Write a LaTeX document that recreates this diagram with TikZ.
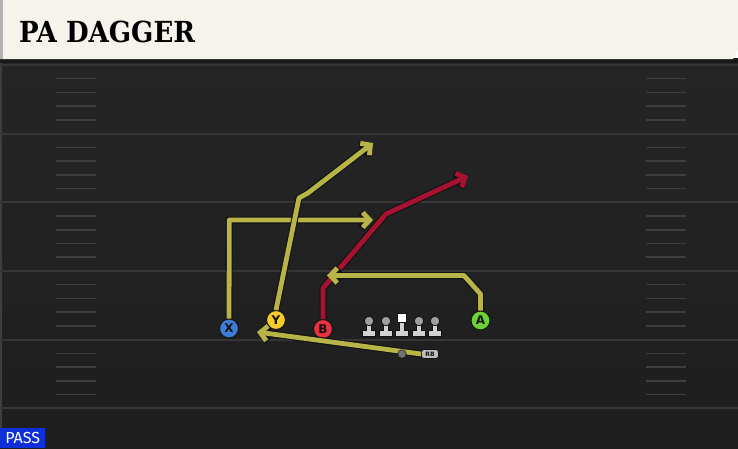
\documentclass[tikz,border=0pt]{standalone}
\usepackage{fontspec}
\usepackage{xcolor}
\usepackage{tikz}
\usetikzlibrary{arrows.meta, shapes.geometric, positioning}

\newfontfamily\titlefont{DejaVu Serif Condensed}[BoldFont={DejaVu Serif Condensed Bold}]
\newfontfamily\markfont{DejaVu Sans}
\newfontfamily\tagfont{Fira Sans}

\definecolor{fieldtop}{HTML}{252525}
\definecolor{fieldbot}{HTML}{1E1E1E}
\definecolor{yardgray}{HTML}{363636}
\definecolor{hashgray}{HTML}{3E3E3E}
\definecolor{titlebg}{HTML}{F6F3EC}
\definecolor{outline}{HTML}{121212}
\definecolor{routeyellow}{HTML}{B7B548}
\definecolor{routered}{HTML}{A61230}
\definecolor{xblue}{HTML}{3D7BD6}
\definecolor{yyellow}{HTML}{F5CB2A}
\definecolor{bred}{HTML}{E73241}
\definecolor{agreen}{HTML}{6BD237}
\definecolor{passblue}{HTML}{0F2FD8}

\begin{document}
\begin{tikzpicture}[
            x=1pt, y=-1pt,
            yardline/.style={draw=yardgray, line width=2pt},
            hashmark/.style={draw=hashgray, line width=1.5pt},
            player/.style={circle, draw=outline, line width=1pt, minimum size=19pt, inner sep=0pt, text=outline, font=\markfont\bfseries\fontsize{12}{12}\selectfont},
            route/.style={line width=4.8pt, line join=round, -{Straight Barb[length=7pt, width=15pt]}, preaction={draw=outline, line width=7pt}},
            lbody/.style={fill=gray!35, draw=outline, line width=0.8pt},
            lhead/.style={circle, fill=gray!75, draw=outline, line width=0.8pt, minimum size=9.5pt, inner sep=0pt},
            cbox/.style={rectangle, fill=white, draw=outline, line width=0.8pt, minimum size=9.5pt, inner sep=0pt},
            qbdot/.style={circle, fill=gray!90!black, draw=outline, line width=0.5pt, minimum size=8.5pt, inner sep=0pt},
            rbtag/.style={rectangle, rounded corners=2.5pt, fill=gray!50, draw=outline, line width=0.8pt, minimum width=17pt, minimum height=9pt, inner sep=0pt, text=outline, font=\markfont\bfseries\fontsize{6}{6}\selectfont},
            passtag/.style={rectangle, fill=passblue, text=white, minimum width=45pt, minimum height=20pt, inner sep=0pt, font=\tagfont\fontsize{16}{16}\selectfont}
        ]
            \useasboundingbox (0,0) rectangle (738,448);

            % Field
            \fill[top color=fieldtop, bottom color=fieldbot] (0,59) rectangle (738,448);
            \draw[hashgray, line width=2pt] (1,63) -- (1,448);
            \foreach \i in {0,...,5}
                \draw[yardline] (0,65+68.65*\i) -- (738,65+68.65*\i);
            \foreach \i in {0,...,4}
                \foreach \j in {1,...,4} {
                    \draw[hashmark] (56,65+68.65*\i+13.73*\j) -- (96,65+68.65*\i+13.73*\j);
                    \draw[hashmark] (646,65+68.65*\i+13.73*\j) -- (686,65+68.65*\i+13.73*\j);
                }

            % Title bar
            \fill[black!90] (0,58) rectangle (738,63);
            \fill[titlebg] (0,0) -- (738,0) -- (738,50) -- (733,59) -- (0,59) -- cycle;
            \fill[gray!60] (0,0) rectangle (3,59);
            \node[anchor=west, inner sep=0pt, font=\titlefont\bfseries\fontsize{29}{29}\selectfont] (title) at (19,32) {PA DAGGER};

            % Nodes
            \node[player, fill=xblue] (X) at (229,328.5) {X};
            \node[player, fill=yyellow] (Y) at (276,320) {Y};
            \node[player, fill=bred] (B) at (323,329) {B};
            \node[player, fill=agreen] (A) at (480.5,320.5) {A};
            \node[rbtag] (rb) at (430,354) {RB};

            % Line
            \foreach \x in {369, 386, 402, 419, 435}
                \draw[lbody] (\x-2.8,322) -- (\x+2.8,322) -- (\x+2.8,330) -- (\x+6.5,330) -- (\x+6.5,336) -- (\x-6.5,336) -- (\x-6.5,330) -- (\x-2.8,330) -- cycle;
            \foreach \x/\n in {369/lt, 386/lg, 419/rg, 435/rt}
                \node[lhead] (\n) at (\x,321) {};
            \node[cbox] (c) at (402,318) {};

            % Route ends
            \coordinate (xend) at (373,220);
            \coordinate (yend) at (373,143);
            \coordinate (bend) at (468,176);
            \coordinate (aend) at (327,275.5);
            \coordinate (rbend) at (257,332);

            % Routes
            \draw[route, routeyellow] (X.north) -- (229.3,220) -- (xend);
            \draw[route, routeyellow] (Y.north) -- (299,198) -- (308,193) -- (yend);
            \draw[route, routered] (B.north) -- (323,288) -- (386,214) -- (bend);
            \draw[route, routeyellow] (A.north) -- (480.5,294) -- (464,275.5) -- (aend);
            \draw[route, routeyellow] (rb.west) -- (rbend);

            \node[qbdot] (qb) at (402,354) {};

            % Play type
            \node[passtag, anchor=south west] (pass) at (0,448) {PASS};
        \end{tikzpicture}
\end{document}
